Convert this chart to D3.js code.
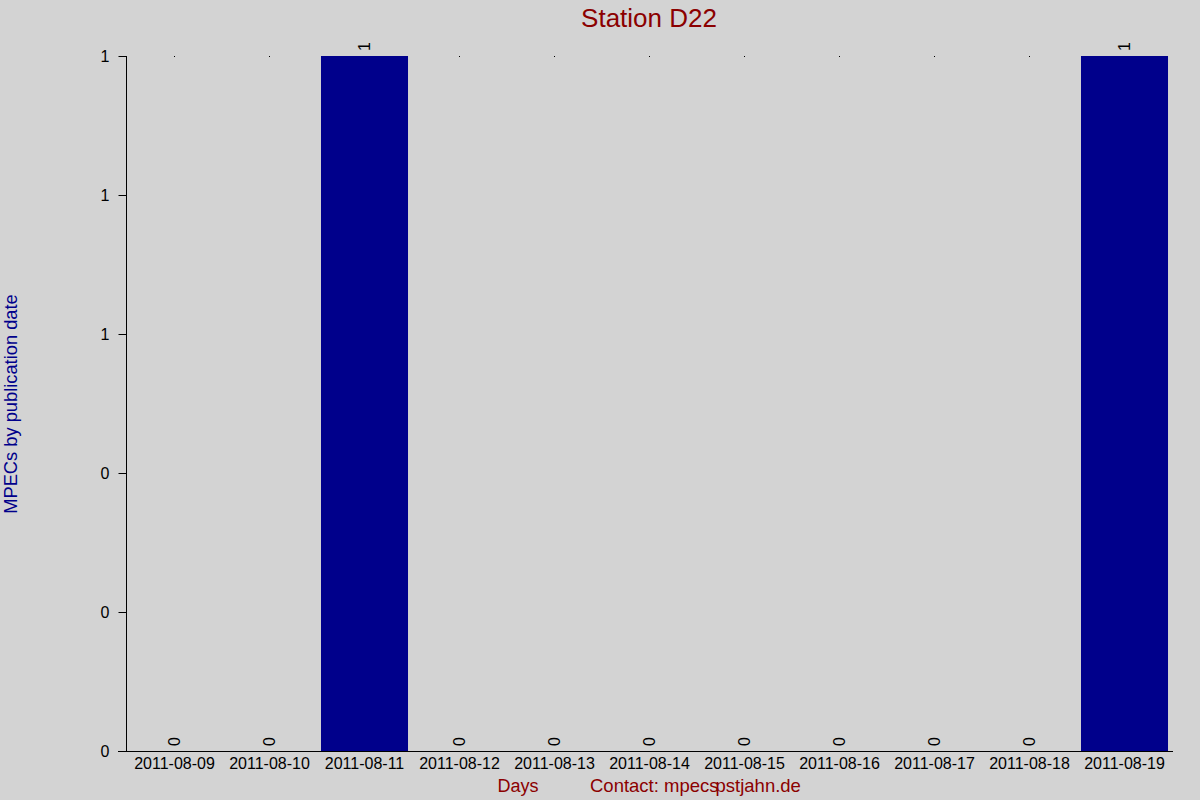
<!DOCTYPE html>
<html>
<head>
<meta charset="utf-8">
<script src="https://cdn.jsdelivr.net/npm/d3@7"></script>
<style>
  body { margin: 0; background: #d3d3d3; }
  svg { display: block; font-family: "Liberation Sans", Arial, sans-serif; }
</style>
</head>
<body>
<div class="canvas"></div>
<script>
// data
const days = ['2011-08-09', '2011-08-10', '2011-08-11', '2011-08-12', '2011-08-13', '2011-08-14',
    '2011-08-15', '2011-08-16', '2011-08-17', '2011-08-18', '2011-08-19'];
const mpecs = [0, 0, 1, 0, 0, 0, 0, 0, 0, 0, 1];
const yTicks = [0, 0.2, 0.4, 0.6, 0.8, 1];

const data = days.map((d, i) => ({day: d, count: mpecs[i]}));

const dims = {width: 1200, height: 800};
const margin = {top: 56, right: 28, bottom: 49, left: 127};

const svg = d3.select('.canvas')
    .append('svg')
    .attr('width', dims.width)
    .attr('height', dims.height);

svg.append('rect')
    .attr('width', dims.width)
    .attr('height', dims.height)
    .attr('fill', '#d3d3d3');

const x = d3.scaleBand()
    .domain(days)
    .range([margin.left, dims.width - margin.right])
    .paddingInner(0.084)
    .paddingOuter(0.042);

const y = d3.scaleLinear()
    .domain([0, 1])
    .range([dims.height - margin.bottom, margin.top]);

// bars
svg.append('g')
    .selectAll('rect')
    .data(data)
    .enter()
    .append('rect')
    .attr('x', d => x(d.day))
    .attr('y', d => y(d.count))
    .attr('width', x.bandwidth())
    .attr('height', d => y(0) - y(d.count))
    .attr('fill', '#00008b');

// tiny marks at the top for empty days
svg.append('g')
    .selectAll('rect')
    .data(data.filter(d => d.count === 0))
    .enter()
    .append('rect')
    .attr('x', d => x(d.day) + x.bandwidth() / 2 - 0.5)
    .attr('y', y(1))
    .attr('width', 1)
    .attr('height', 1)
    .attr('fill', '#000');

// value labels
svg.append('g')
    .selectAll('text')
    .data(data)
    .enter()
    .append('text')
    .attr('transform', d => `translate(${x(d.day) + x.bandwidth() / 2 + 5.5}, ${y(d.count) - 5}) rotate(-90)`)
    .attr('font-size', 16)
    .attr('fill', '#000')
    .text(d => d.count);

// y axis
const yAxis = d3.axisLeft(y)
    .tickValues(yTicks)
    .tickSize(8)
    .tickFormat(d3.format('.0f'));

const yG = svg.append('g')
    .attr('transform', `translate(${margin.left - 0.5}, 0)`)
    .call(yAxis);
yG.select('.domain').attr('d', `M0,${y(1)}V${y(0)}`);
yG.selectAll('text').attr('font-size', 16).attr('font-family', 'Liberation Sans, Arial, sans-serif').attr('dx', '-6');

// x axis
const xAxis = d3.axisBottom(x).tickSize(0).tickPadding(6);
const xG = svg.append('g')
    .attr('transform', `translate(0, ${y(0) + 0.5})`)
    .call(xAxis);
xG.select('.domain').attr('d', `M${margin.left - 9},0H${dims.width - margin.right + 1}`);
xG.selectAll('text').attr('font-size', 16).attr('font-family', 'Liberation Sans, Arial, sans-serif');

// titles
svg.append('text')
    .attr('x', 649)
    .attr('y', 27)
    .attr('text-anchor', 'middle')
    .attr('font-size', 26)
    .attr('fill', '#8b0000')
    .text('Station D22');

svg.append('text')
    .attr('transform', `translate(17, 404) rotate(-90)`)
    .attr('text-anchor', 'middle')
    .attr('font-size', 18.3)
    .attr('fill', '#00008b')
    .text('MPECs by publication date');

svg.append('text')
    .attr('x', 518)
    .attr('y', 792)
    .attr('text-anchor', 'middle')
    .attr('font-size', 18)
    .attr('fill', '#8b0000')
    .text('Days');

const contact = svg.append('text')
    .attr('x', 590)
    .attr('y', 792)
    .attr('font-size', 18.5)
    .attr('fill', '#8b0000');
contact.append('tspan').text('Contact: mpecs');
contact.append('tspan').attr('dx', -3).text('pstjahn.de');
</script>
</body>
</html>
